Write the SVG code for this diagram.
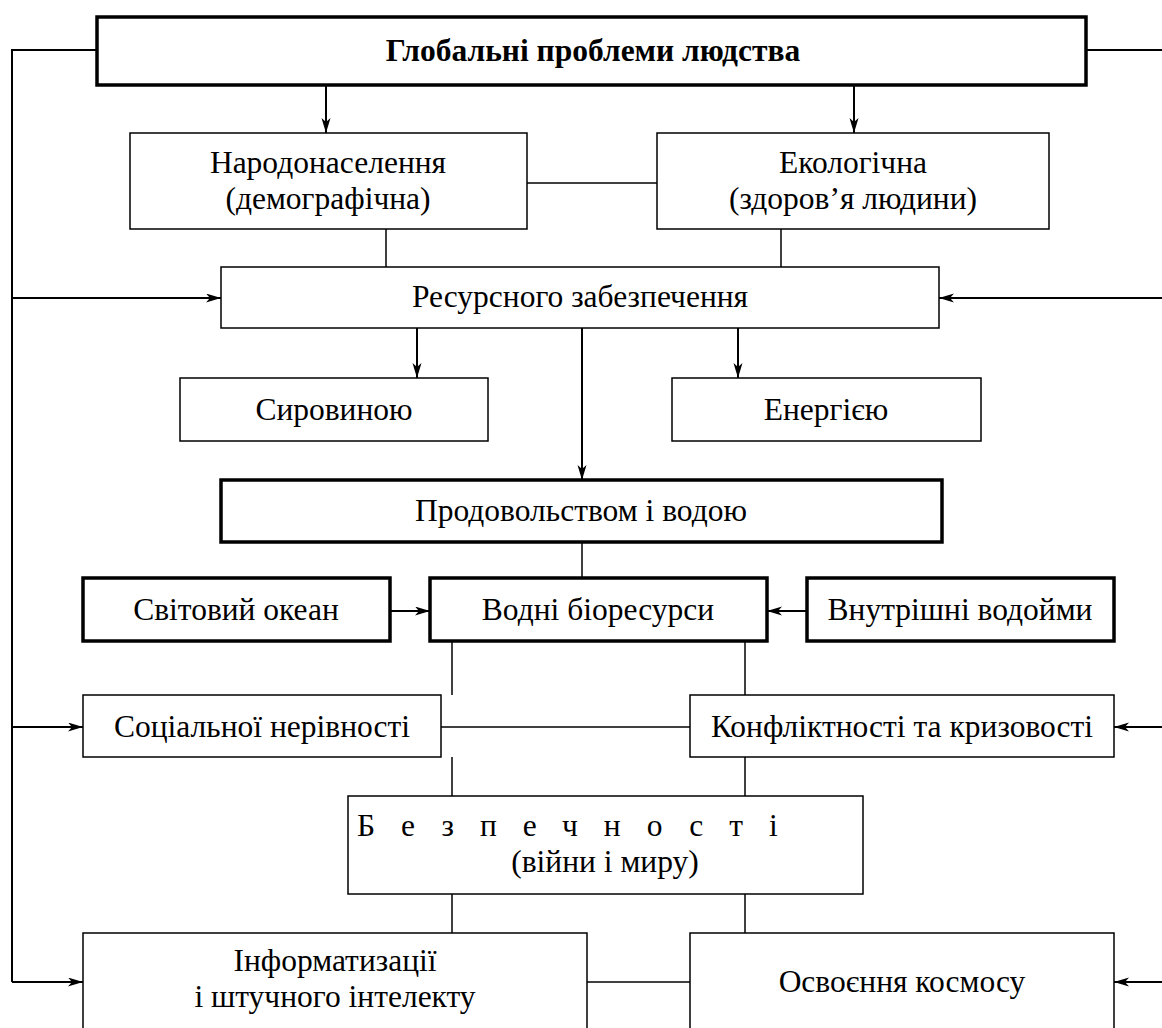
<svg xmlns="http://www.w3.org/2000/svg" width="1162" height="1028" viewBox="0 0 1162 1028">
<style>
  .box { fill: #fff; stroke: #000; stroke-width: 1.5; }
  .thick { fill: #fff; stroke: #000; stroke-width: 3.5; }
  .t { font-family: "Liberation Serif", "DejaVu Serif", serif; font-size: 31.5px; fill: #000; text-anchor: middle; }
  .b { font-weight: bold; }
  .ln { fill: none; stroke: #000; stroke-width: 1.5; }
  .ar { fill: none; stroke: #000; stroke-width: 2; marker-end: url(#ah); }
</style>
<defs>
  <marker id="ah" markerUnits="userSpaceOnUse" markerWidth="16" markerHeight="10" refX="15" refY="4.5" orient="auto">
    <path d="M0,0 L15,4.5 L0,9 L4,4.5 z" fill="#000"/>
  </marker>
</defs>
<g id="connectors">
  <polyline class="ln" points="97,50 12,50 12,982" style="stroke-width:2"/>
  <line class="ar" x1="12" y1="298" x2="221" y2="298"/>
  <line class="ar" x1="12" y1="727" x2="83" y2="727"/>
  <line class="ar" x1="12" y1="982" x2="83" y2="982"/>
  <polyline class="ln" points="1086,50 1163,50 1163,982" style="stroke-width:2"/>
  <line class="ar" x1="1163" y1="298" x2="939" y2="298"/>
  <line class="ar" x1="1163" y1="727" x2="1114" y2="727"/>
  <line class="ar" x1="1163" y1="982" x2="1114" y2="982"/>
  <line class="ar" x1="326" y1="85" x2="326" y2="133"/>
  <line class="ar" x1="854" y1="85" x2="854" y2="133"/>
  <line class="ln" x1="527" y1="183" x2="657" y2="183"/>
  <line class="ln" x1="386" y1="229" x2="386" y2="267"/>
  <line class="ln" x1="781" y1="229" x2="781" y2="267"/>
  <line class="ar" x1="417" y1="328" x2="417" y2="378"/>
  <line class="ar" x1="738" y1="328" x2="738" y2="378"/>
  <line class="ar" x1="582" y1="328" x2="582" y2="480"/>
  <line class="ln" x1="582" y1="542" x2="582" y2="578"/>
  <line class="ar" x1="390" y1="611" x2="430" y2="611"/>
  <line class="ar" x1="807" y1="611" x2="767" y2="611"/>
  <line class="ln" x1="452" y1="641" x2="452" y2="695"/>
  <line class="ln" x1="745" y1="641" x2="745" y2="695"/>
  <line class="ln" x1="441" y1="727" x2="690" y2="727"/>
  <line class="ln" x1="452" y1="757" x2="452" y2="796"/>
  <line class="ln" x1="745" y1="757" x2="745" y2="796"/>
  <line class="ln" x1="452" y1="894" x2="452" y2="933"/>
  <line class="ln" x1="745" y1="894" x2="745" y2="933"/>
  <line class="ln" x1="587" y1="982" x2="690" y2="982"/>
</g>
<g id="global">
  <rect class="thick" x="97" y="17" width="989" height="68"/>
  <text class="t b" x="593" y="61">Глобальні проблеми людства</text>
</g>
<g id="demographic">
  <rect class="box" x="130" y="133" width="397" height="96"/>
  <text class="t" x="328" y="173">Народонаселення</text>
  <text class="t" x="328" y="209">(демографічна)</text>
</g>
<g id="ecological">
  <rect class="box" x="657" y="133" width="392" height="96"/>
  <text class="t" x="853" y="173">Екологічна</text>
  <text class="t" x="853" y="209">(здоров’я людини)</text>
</g>
<g id="resources">
  <rect class="box" x="221" y="267" width="718" height="61"/>
  <text class="t" x="580" y="307">Ресурсного забезпечення</text>
</g>
<g id="raw">
  <rect class="box" x="180" y="378" width="308" height="63"/>
  <text class="t" x="334" y="420">Сировиною</text>
</g>
<g id="energy">
  <rect class="box" x="672" y="378" width="309" height="63"/>
  <text class="t" x="826" y="420">Енергією</text>
</g>
<g id="food">
  <rect class="thick" x="221" y="480" width="721" height="62"/>
  <text class="t" x="581" y="521">Продовольством і водою</text>
</g>
<g id="ocean">
  <rect class="thick" x="83" y="578" width="307" height="63"/>
  <text class="t" x="236" y="620">Світовий океан</text>
</g>
<g id="bio">
  <rect class="thick" x="430" y="578" width="337" height="63"/>
  <text class="t" x="598" y="620">Водні біоресурси</text>
</g>
<g id="inland">
  <rect class="thick" x="807" y="578" width="307" height="63"/>
  <text class="t" x="960" y="620">Внутрішні водойми</text>
</g>
<g id="social">
  <rect class="box" x="83" y="695" width="358" height="62"/>
  <text class="t" x="262" y="737">Соціальної нерівності</text>
</g>
<g id="conflict">
  <rect class="box" x="690" y="695" width="424" height="62"/>
  <text class="t" x="902" y="737">Конфліктності та кризовості</text>
</g>
<g id="security">
  <rect class="box" x="348" y="796" width="515" height="98"/>
  <text class="t" x="357" y="836" style="text-anchor:start;letter-spacing:26px">Безпечності</text>
  <text class="t" x="605" y="872">(війни і миру)</text>
</g>
<g id="informatization">
  <rect class="box" x="83" y="933" width="504" height="110"/>
  <text class="t" x="335" y="971">Інформатизації</text>
  <text class="t" x="335" y="1007">і штучного інтелекту</text>
</g>
<g id="space">
  <rect class="box" x="690" y="933" width="424" height="110"/>
  <text class="t" x="902" y="992">Освоєння космосу</text>
</g>
</svg>
